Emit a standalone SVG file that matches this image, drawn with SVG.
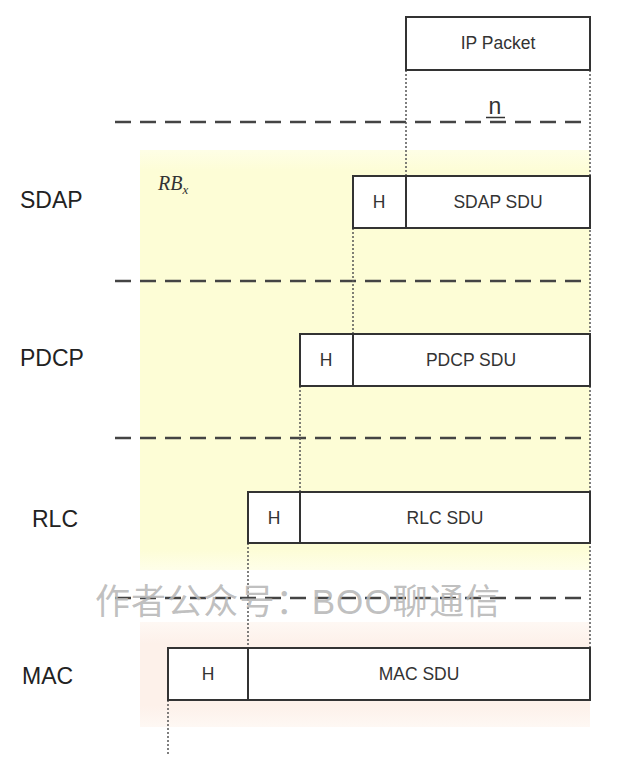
<svg xmlns="http://www.w3.org/2000/svg" width="642" height="765" viewBox="0 0 642 765">
<defs>
<style>
.box{fill:#fff;stroke:#333;stroke-width:2}
.lbl{font-family:"Liberation Sans",Arial,sans-serif;font-size:17.5px;fill:#333;text-anchor:middle}
.layer{font-family:"Liberation Sans",Arial,sans-serif;font-size:23px;fill:#222}
.dash{stroke:#444;stroke-width:2.5;stroke-dasharray:16,9;fill:none}
.dot{stroke:#555;stroke-width:1.5;stroke-dasharray:2,2;fill:none}
</style>
<linearGradient id="yg" x1="0" y1="0" x2="0" y2="1">
<stop offset="0" stop-color="#fefee6"/>
<stop offset="0.05" stop-color="#fdfdd6"/>
<stop offset="0.95" stop-color="#fdfdd6"/>
<stop offset="1" stop-color="#fefee9"/>
</linearGradient>
<linearGradient id="pg" x1="0" y1="0" x2="0" y2="1">
<stop offset="0" stop-color="#fef8f4"/>
<stop offset="0.2" stop-color="#fdf1ea"/>
<stop offset="0.8" stop-color="#fdf1ea"/>
<stop offset="1" stop-color="#fef8f4"/>
</linearGradient>
</defs>
<rect width="642" height="765" fill="#fff"/>
<rect x="140" y="150" width="450" height="420" fill="url(#yg)"/>
<rect x="140" y="622" width="450" height="105" fill="url(#pg)"/>
<g id="layer-labels">
<text class="layer" x="20" y="208">SDAP</text>
<text class="layer" x="20" y="366">PDCP</text>
<text class="layer" x="32" y="527">RLC</text>
<text class="layer" x="22" y="684">MAC</text>
</g>
<text x="158" y="190" font-family="Liberation Serif,serif" font-style="italic" font-size="20" fill="#333">RB<tspan font-size="13" dy="4">x</tspan></text>
<g id="connectors">
<line class="dash" x1="115" y1="122" x2="590" y2="122"/>
<line class="dash" x1="115" y1="281" x2="590" y2="281"/>
<line class="dash" x1="115" y1="438" x2="590" y2="438"/>
<line class="dash" x1="115" y1="598" x2="590" y2="598"/>
<line class="dot" x1="406" y1="70" x2="406" y2="176"/>
<line class="dot" x1="590" y1="70" x2="590" y2="648"/>
<line class="dot" x1="353" y1="228" x2="353" y2="334"/>
<line class="dot" x1="300" y1="386" x2="300" y2="492"/>
<line class="dot" x1="248" y1="543" x2="248" y2="648"/>
<line class="dot" x1="168" y1="700" x2="168" y2="756"/>
</g>
<g id="n-label">
<text class="lbl" x="495" y="114" style="font-size:23px">n</text>
<line x1="486" y1="117.5" x2="505" y2="117.5" stroke="#333" stroke-width="1.5"/>
</g>
<g id="ip-packet">
<rect class="box" x="406" y="17" width="184" height="53"/>
<text class="lbl" x="498" y="49">IP Packet</text>
</g>
<g id="sdap-pdu">
<rect class="box" x="353" y="176" width="53" height="52"/>
<text class="lbl" x="379" y="208">H</text>
<rect class="box" x="406" y="176" width="184" height="52"/>
<text class="lbl" x="498" y="208">SDAP SDU</text>
</g>
<g id="pdcp-pdu">
<rect class="box" x="300" y="334" width="53" height="52"/>
<text class="lbl" x="326" y="366">H</text>
<rect class="box" x="353" y="334" width="237" height="52"/>
<text class="lbl" x="471" y="366">PDCP SDU</text>
</g>
<g id="rlc-pdu">
<rect class="box" x="248" y="492" width="52" height="51"/>
<text class="lbl" x="274" y="524">H</text>
<rect class="box" x="300" y="492" width="290" height="51"/>
<text class="lbl" x="445" y="524">RLC SDU</text>
</g>
<g id="mac-pdu">
<rect class="box" x="168" y="648" width="80" height="52"/>
<text class="lbl" x="208" y="680">H</text>
<rect class="box" x="248" y="648" width="342" height="52"/>
<text class="lbl" x="419" y="680">MAC SDU</text>
</g>
<text x="95" y="614" font-family="Liberation Sans,'Noto Sans CJK SC',sans-serif" font-size="35" fill="#b8b8b8" fill-opacity="0.9" textLength="405">作者公众号：BOO聊通信</text>
</svg>
